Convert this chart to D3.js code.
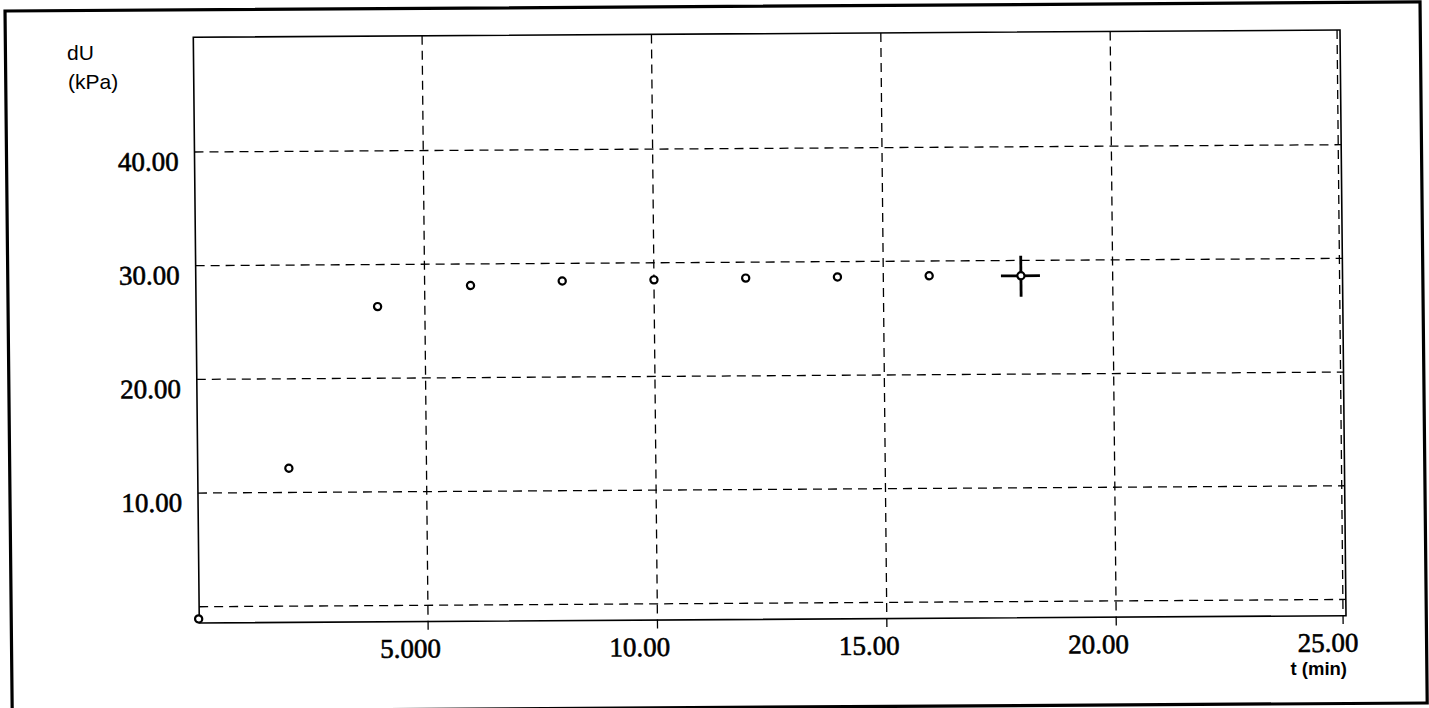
<!DOCTYPE html>
<html>
<head>
<meta charset="utf-8">
<script src="https://cdn.jsdelivr.net/npm/d3@7"></script>
<style>
  body { margin: 0; background: #fff; }
  svg { display: block; }
</style>
</head>
<body>
<div id="chart"></div>
<script>
// readings (time in min, excess pore pressure in kPa)
const times = [0, 2, 3.97, 6, 8, 10, 12, 14, 16, 18];
const dU = [-1.07, 12.13, 26.3, 28.1, 28.45, 28.5, 28.6, 28.65, 28.7, 28.65];
const xTicks = [5, 10, 15, 20, 25];
const xTickLabels = ["5.000", "10.00", "15.00", "20.00", "25.00"];
const yTicks = [0, 10, 20, 30, 40];
const yTickLabels = ["", "10.00", "20.00", "30.00", "40.00"];
const cursorIndex = 9; // crosshair sits on the last reading

const W = 1429, H = 708;
const width = 1146.7, height = 585.7;
const serif = "'Liberation Serif', 'Times New Roman', serif";
const sans = "'Liberation Sans', Arial, sans-serif";

const root = d3.select("#chart").append("svg")
  .attr("width", W)
  .attr("height", H);

// scanned page is slightly skewed, keep the plot on the same slant
const svg = root.append("g")
  .attr("transform", "translate(193.3,37.3) matrix(1,-0.00637,0.01024,1,0,0)");

// outer frame
svg.append("rect")
  .attr("x", -188).attr("y", -27.5)
  .attr("width", 1415).attr("height", 701)
  .attr("fill", "none")
  .attr("stroke", "#000")
  .attr("stroke-width", 3.2);

const x = d3.scaleLinear().domain([0.013, 25.01]).range([0, width]);
const y = d3.scaleLinear().domain([-1.43, 50.09]).range([height, 0]);

// grid
svg.append("g")
  .selectAll("line")
  .data(yTicks)
  .join("line")
  .attr("x1", 0).attr("x2", width)
  .attr("y1", d => y(d)).attr("y2", d => y(d))
  .attr("stroke", "#000")
  .attr("stroke-width", 1.3)
  .attr("stroke-dasharray", "9,6");

svg.append("g")
  .selectAll("line")
  .data(xTicks)
  .join("line")
  .attr("x1", d => x(d) - (d === 25 ? 2.5 : 0))
  .attr("x2", d => x(d) - (d === 25 ? 2.5 : 0))
  .attr("y1", 0).attr("y2", height + 9)
  .attr("stroke", "#000")
  .attr("stroke-width", 1.3)
  .attr("stroke-dasharray", "9,6");

// plot frame
svg.append("rect")
  .attr("width", width).attr("height", height)
  .attr("fill", "none")
  .attr("stroke", "#000")
  .attr("stroke-width", 1.6);

// tick labels
const xAxis = d3.axisBottom(x).tickValues(xTicks)
  .tickFormat((d, i) => xTickLabels[i]).tickSize(0).tickPadding(0);
svg.append("g")
  .attr("transform", `translate(0,${height})`)
  .call(xAxis)
  .call(g => g.select(".domain").remove())
  .selectAll("text")
  .attr("text-anchor", "end")
  .attr("x", 12)
  .attr("y", 36)
  .attr("dy", 0)
  .attr("font-family", serif)
  .attr("font-size", 27)
  .attr("fill", "#000")
  .attr("stroke", "#000")
  .attr("stroke-width", 0.6);

const yAxis = d3.axisLeft(y).tickValues(yTicks)
  .tickFormat((d, i) => yTickLabels[i]).tickSize(0).tickPadding(16);
svg.append("g")
  .call(yAxis)
  .call(g => g.select(".domain").remove())
  .selectAll("text")
  .attr("dy", 18)
  .attr("font-family", serif)
  .attr("font-size", 27)
  .attr("fill", "#000")
  .attr("stroke", "#000")
  .attr("stroke-width", 0.6);

// unit titles
root.append("text")
  .attr("x", 67).attr("y", 60)
  .attr("font-family", sans)
  .attr("font-size", 21)
  .text("dU");
root.append("text")
  .attr("x", 68).attr("y", 89)
  .attr("font-family", sans)
  .attr("font-size", 21)
  .text("(kPa)");
root.append("text")
  .attr("x", 1347).attr("y", 675)
  .attr("text-anchor", "end")
  .attr("font-family", sans)
  .attr("font-size", 18.5)
  .attr("font-weight", "bold")
  .text("t (min)");

// crosshair cursor (under the marker)
const cx = x(times[cursorIndex]), cy = y(dU[cursorIndex]);
const cross = svg.append("g").attr("stroke", "#000").attr("stroke-width", 2.8);
cross.append("line").attr("x1", cx - 20).attr("x2", cx + 19).attr("y1", cy).attr("y2", cy);
cross.append("line").attr("x1", cx).attr("x2", cx).attr("y1", cy - 20).attr("y2", cy + 21);

// data points
svg.append("g")
  .selectAll("circle")
  .data(times)
  .join("circle")
  .attr("cx", d => x(d))
  .attr("cy", (d, i) => y(dU[i]))
  .attr("r", 3.6)
  .attr("fill", "#fff")
  .attr("stroke", "#000")
  .attr("stroke-width", 2.2);
</script>
</body>
</html>
